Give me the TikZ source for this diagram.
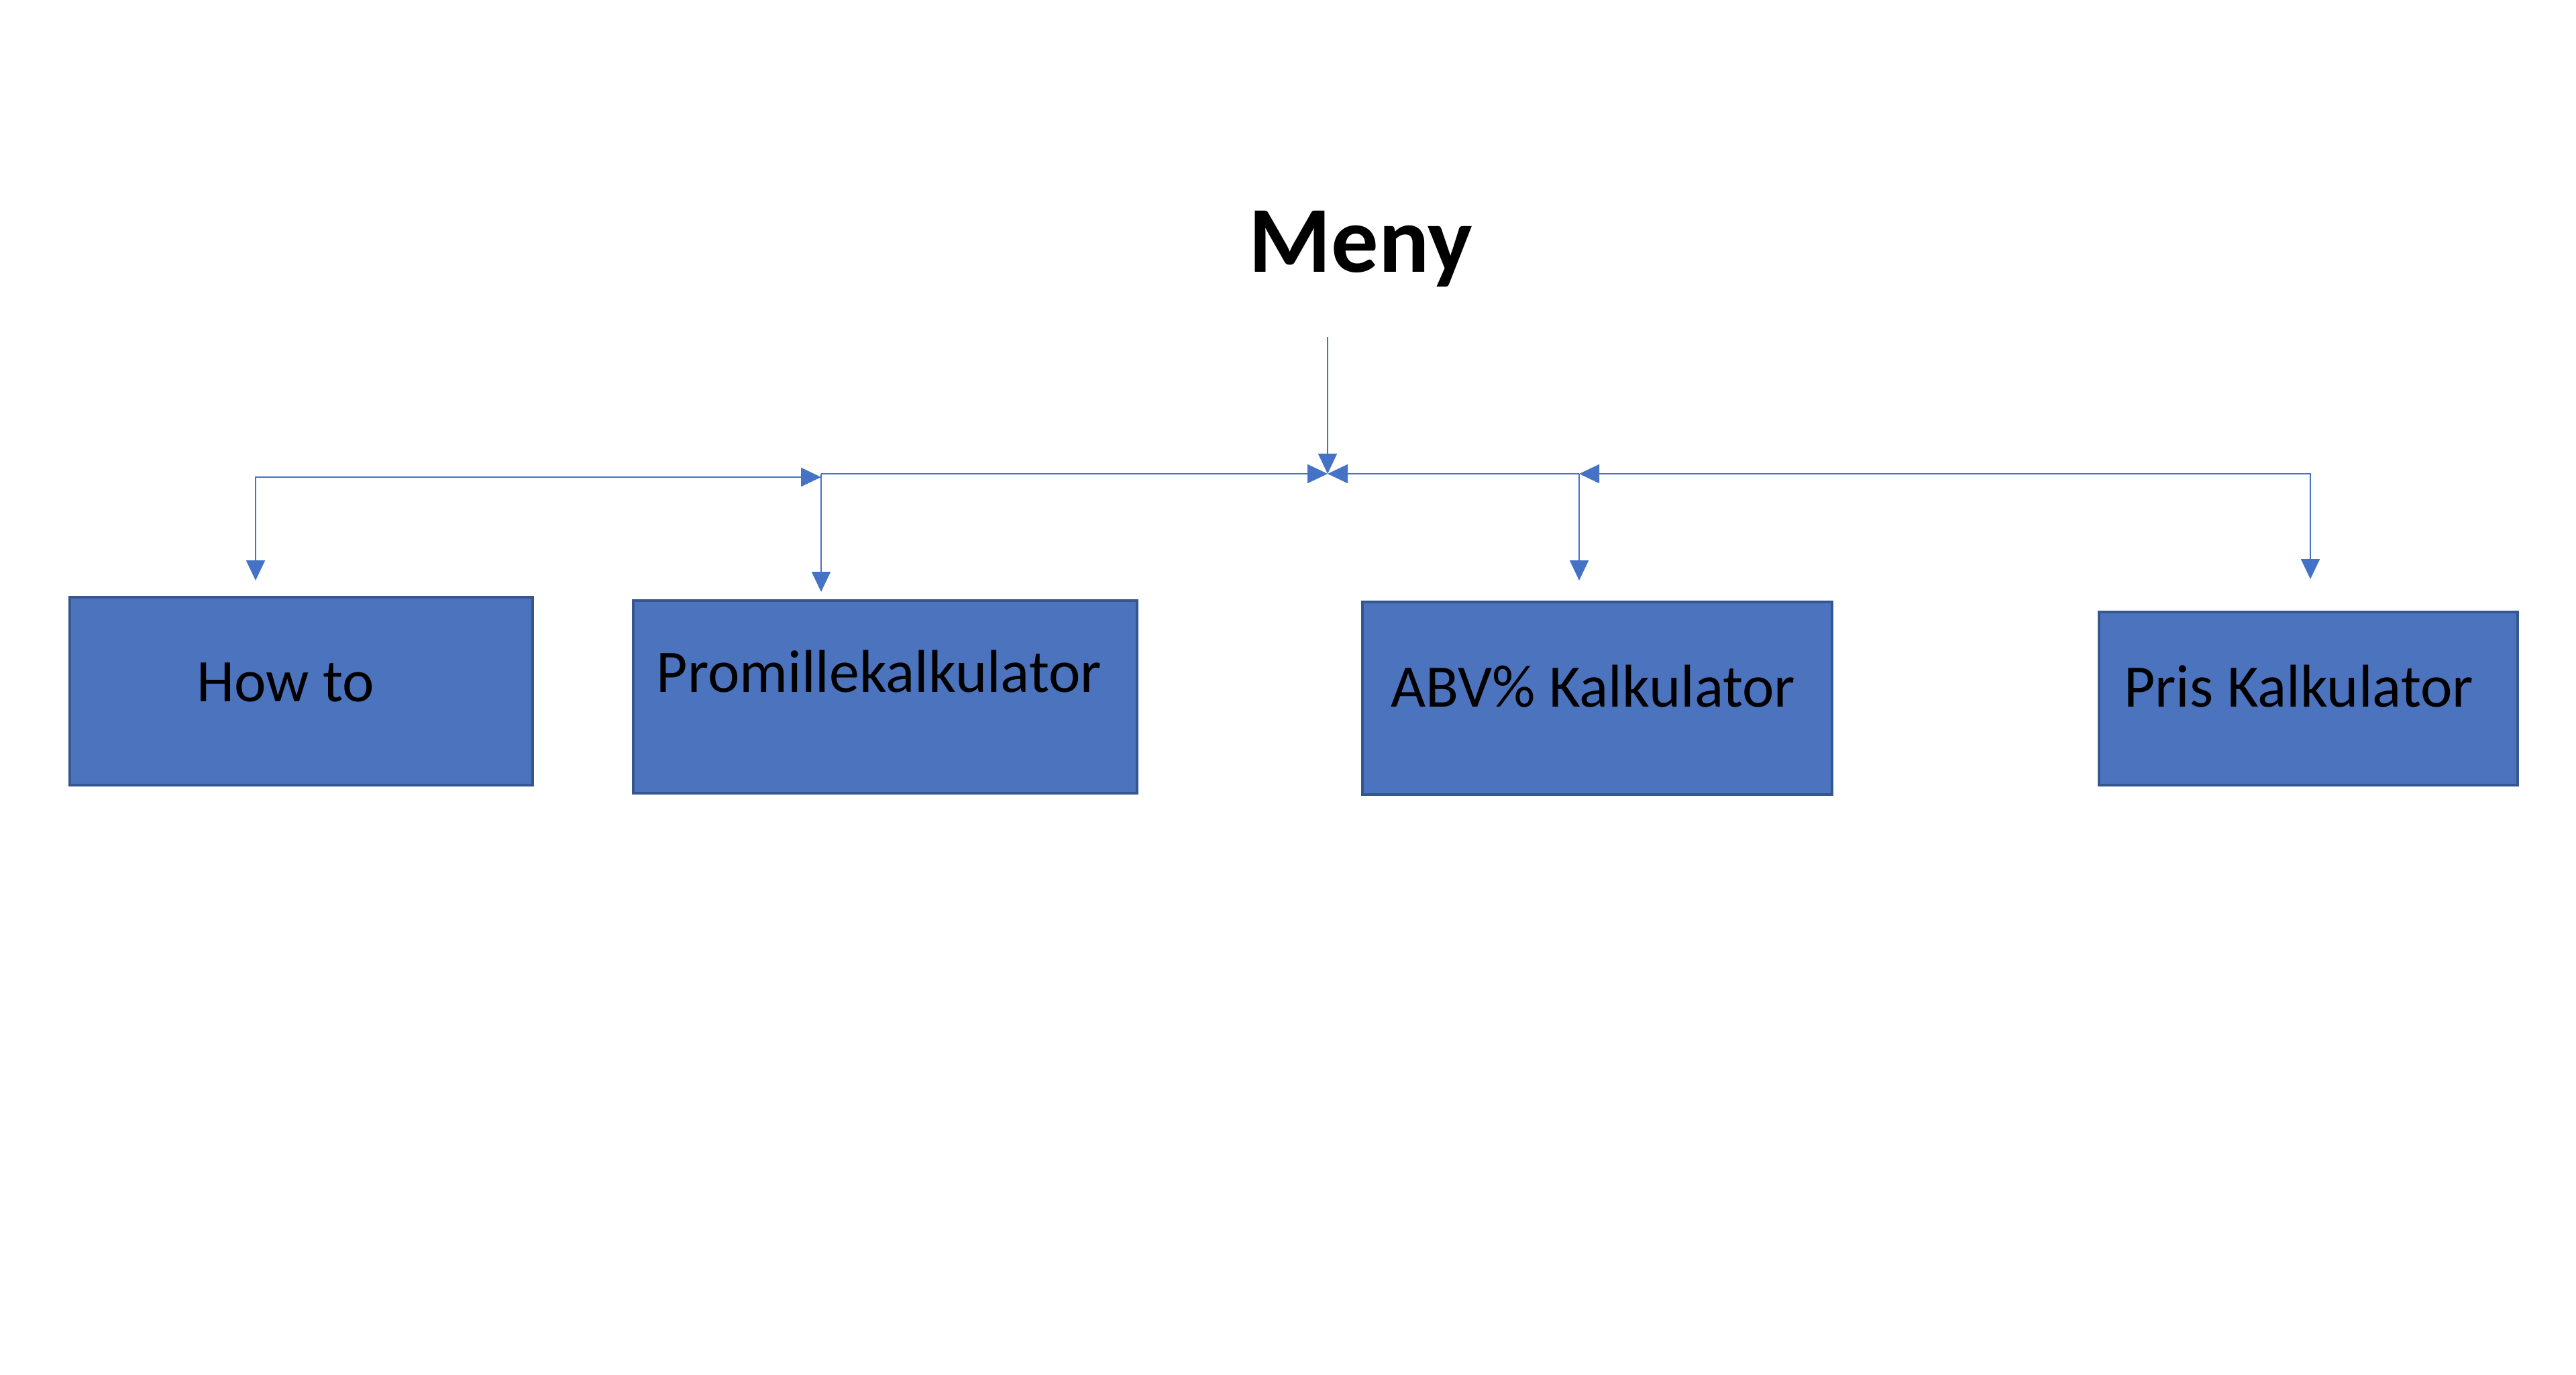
\documentclass[tikz,border=0pt]{standalone}
\usepackage{fontspec}
\setmainfont{Carlito}
\usetikzlibrary{arrows.meta}
\definecolor{boxblue}{HTML}{4C73BD}
\definecolor{boxedge}{HTML}{36568F}
\definecolor{linkblue}{HTML}{4472C4}
\tikzset{
  menubox/.style={draw=boxedge, fill=boxblue, line width=1.1pt, inner sep=0pt},
  boxtext/.style={anchor=base, inner sep=0pt, font=\fontsize{25.6}{30}\selectfont},
  link/.style={draw=linkblue, line width=0.6pt, -{Triangle[length=0.3cm,width=0.28cm]}},
  twolink/.style={link, {Triangle[length=0.3cm,width=0.28cm]}-{Triangle[length=0.3cm,width=0.28cm]}},
}
\begin{document}
\begin{tikzpicture}
\useasboundingbox (0,0) rectangle (38.4,-20.48);
\node[anchor=base, inner sep=0pt, font=\fontsize{40}{48}\selectfont\bfseries] (meny) at (20.28,-4.05) {Meny};

\node[menubox, minimum width=6.9cm, minimum height=2.8cm] (howto) at (4.49,-10.30) {};
\node[menubox, minimum width=7.51cm, minimum height=2.87cm] (promille) at (13.195,-10.385) {};
\node[menubox, minimum width=7.0cm, minimum height=2.87cm] (abv) at (23.81,-10.405) {};
\node[menubox, minimum width=6.24cm, minimum height=2.58cm] (pris) at (34.41,-10.41) {};

\node[boxtext] (howtotxt) at (4.255,-10.45) {How to};
\node[boxtext] (promilletxt) at (13.105,-10.31) {Promillekalkulator};
\node[boxtext] (abvtxt) at (23.75,-10.53) {ABV\% Kalkulator};
\node[boxtext] (pristxt) at (34.265,-10.53) {Pris Kalkulator};

\coordinate (mtop) at (19.79,-5.02);
\coordinate (hub) at (19.79,-7.06);
\coordinate (promjoin) at (12.24,-7.06);
\coordinate (promtip) at (12.24,-7.11);
\coordinate (abvjoin) at (23.54,-7.06);
\coordinate (howtoin) at (3.81,-8.65);
\coordinate (promillein) at (12.24,-8.82);
\coordinate (abvin) at (23.54,-8.65);
\coordinate (prisin) at (34.44,-8.63);

\path[link] (mtop) -- (hub);
\path[link] (promjoin) -- (hub);
\path[link] (abvjoin) -- (hub);
\path[twolink] (howtoin) |- (promtip);
\path[twolink] (prisin) |- (abvjoin);
\path[link] (promjoin) -- (promillein);
\path[link] (abvjoin) -- (abvin);
\end{tikzpicture}
\end{document}
